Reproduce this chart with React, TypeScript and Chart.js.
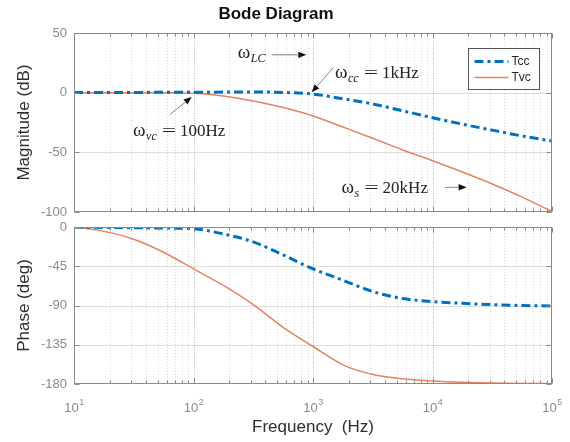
import React, { useEffect, useRef } from 'react';
import { Chart, registerables } from 'chart.js';

Chart.register(...registerables);

// ---- data ----
const frequencies = [10, 17.8, 31.6, 56.2, 100, 178, 316, 562, 1000, 1780, 3160, 5620, 10000, 17800, 31600, 56200, 100000];
const tccMagnitude = [0.2, 0.2, 0.2, 0.3, 0.3, 0.5, 0.6, 0.2, -1.2, -5.1, -9.4, -15.2, -21, -26.4, -31.4, -36.3, -40.5];
const tvcMagnitude = [0, 0, 0, 0, -0.5, -2.8, -7, -12.5, -19.5, -28.8, -38.2, -48, -57, -66.5, -76.5, -87.5, -99.5];
const tccPhase = [0, -0.5, -0.8, -1.2, -2, -8, -17, -32, -48, -61, -74, -82, -85.5, -87.5, -89, -90, -90.5];
const tvcPhase = [0, -5, -14, -29, -48, -67, -89, -115, -137, -158, -169, -174, -176.5, -178, -178.8, -179.3, -179.6];
const seriesNames = ['Tcc', 'Tvc'];
const decadeTicks = [10, 100, 1000, 10000, 100000];
const decadeExponents = ['1', '2', '3', '4', '5'];
const minorMultipliers = [2, 3, 4, 5, 6, 7, 8, 9];
const annotationSubscripts = ['LC', 'cc', 'vc', 's'];
const annotationValues = ['', '1kHz', '100Hz', '20kHz'];

// annotation placement in data coordinates (freq, dB)
const annotationLayout = [
  { text: [235, 29.2], from: [451, 31.7], to: [879, 31.7] },
  { text: [1528, 12.5], from: [1479, 21.1], to: [975, 0.25] },
  { text: [31.2, -36.25], from: [63.5, -18.3], to: [96.6, -3.6] },
  { text: [1734, -84.2], from: [12730, -79.4], to: [19300, -79.2] },
];

const SANS = '"Liberation Sans", Arial, Helvetica, sans-serif';
const SERIF = '"Liberation Serif", "Times New Roman", serif';
const TCC_COLOR = '#0072BD';
const TVC_COLOR = '#E3835F';
const TCC_DASH = [9, 4, 3, 4];
const BOX_COLOR = '#8a8a8a';

const toXY = (vals: number[]) => frequencies.map((f, i) => ({ x: f, y: vals[i] }));

const gridPlugin = {
  id: 'matlabGrid',
  beforeDatasetsDraw(chart: any) {
    const { ctx, chartArea, scales } = chart;
    const { left, right, top, bottom } = chartArea;
    const x = scales.x;
    const y = scales.y;
    ctx.save();
    ctx.lineWidth = 1;
    ctx.strokeStyle = 'rgba(0,0,0,0.13)';
    ctx.setLineDash([]);
    y.ticks.forEach((t: any) => {
      const py = Math.round(y.getPixelForValue(t.value)) + 0.5;
      if (py <= top + 1 || py >= bottom - 1) return;
      ctx.beginPath();
      ctx.moveTo(left, py);
      ctx.lineTo(right, py);
      ctx.stroke();
    });
    ctx.strokeStyle = 'rgba(0,0,0,0.16)';
    ctx.setLineDash([1, 2]);
    decadeTicks.forEach((d) => {
      minorMultipliers.forEach((m) => {
        const f = d * m;
        if (f > 100000) return;
        const px = Math.round(x.getPixelForValue(f)) + 0.5;
        ctx.beginPath();
        ctx.moveTo(px, top);
        ctx.lineTo(px, bottom);
        ctx.stroke();
      });
    });
    ctx.strokeStyle = 'rgba(0,0,0,0.3)';
    ctx.setLineDash([1, 1.5]);
    decadeTicks.forEach((d) => {
      const px = Math.round(x.getPixelForValue(d)) + 0.5;
      if (px <= left + 1 || px >= right - 1) return;
      ctx.beginPath();
      ctx.moveTo(px, top);
      ctx.lineTo(px, bottom);
      ctx.stroke();
    });
    ctx.restore();
  },
  afterDatasetsDraw(chart: any) {
    const { ctx, chartArea, scales } = chart;
    const { left, right, top, bottom } = chartArea;
    const x = scales.x;
    const y = scales.y;
    ctx.save();
    ctx.setLineDash([]);
    ctx.strokeStyle = BOX_COLOR;
    ctx.lineWidth = 1;
    const L = Math.round(left) + 0.5;
    const R = Math.round(right) - 0.5;
    const T = Math.round(top) + 0.5;
    const B = Math.round(bottom) - 0.5;
    ctx.strokeRect(L, T, R - L, B - T);
    ctx.beginPath();
    decadeTicks.forEach((d) => {
      [1, ...minorMultipliers].forEach((m) => {
        const f = d * m;
        if (f > 100000) return;
        const len = m === 1 ? 5 : 3;
        const px = Math.round(x.getPixelForValue(f)) + 0.5;
        ctx.moveTo(px, B);
        ctx.lineTo(px, B - len);
        ctx.moveTo(px, T);
        ctx.lineTo(px, T + len);
      });
    });
    y.ticks.forEach((t: any) => {
      const py = Math.round(y.getPixelForValue(t.value)) + 0.5;
      ctx.moveTo(L, py);
      ctx.lineTo(L + 5, py);
      ctx.moveTo(R, py);
      ctx.lineTo(R - 5, py);
    });
    ctx.stroke();
    ctx.restore();
  },
};

function drawArrow(ctx: CanvasRenderingContext2D, x1: number, y1: number, x2: number, y2: number) {
  const ang = Math.atan2(y2 - y1, x2 - x1);
  const headLen = 8;
  const headHalf = 3.2;
  const bx = x2 - headLen * Math.cos(ang);
  const by = y2 - headLen * Math.sin(ang);
  ctx.save();
  ctx.strokeStyle = '#777';
  ctx.lineWidth = 0.9;
  ctx.setLineDash([]);
  ctx.beginPath();
  ctx.moveTo(x1, y1);
  ctx.lineTo(bx, by);
  ctx.stroke();
  ctx.fillStyle = '#111';
  ctx.beginPath();
  ctx.moveTo(x2, y2);
  ctx.lineTo(bx + headHalf * Math.sin(ang), by - headHalf * Math.cos(ang));
  ctx.lineTo(bx - headHalf * Math.sin(ang), by + headHalf * Math.cos(ang));
  ctx.closePath();
  ctx.fill();
  ctx.restore();
}

function drawOmegaLabel(ctx: CanvasRenderingContext2D, x: number, y: number, sub: string, value: string) {
  ctx.save();
  ctx.fillStyle = '#222';
  ctx.textAlign = 'left';
  ctx.textBaseline = 'alphabetic';
  ctx.font = `19px ${SERIF}`;
  ctx.fillText('ω', x, y);
  let cx = x + ctx.measureText('ω').width + 0.5;
  ctx.font = `italic 12px ${SERIF}`;
  ctx.fillText(sub, cx, y + 4);
  cx += ctx.measureText(sub).width;
  if (value) {
    cx += 5;
    ctx.font = `17px ${SERIF}`;
    const eqW = ctx.measureText('=').width;
    ctx.save();
    ctx.translate(cx, y);
    ctx.scale(1.5, 1);
    ctx.fillText('=', 0, 0);
    ctx.restore();
    cx += eqW * 1.5 + 4;
    ctx.font = `17px ${SERIF}`;
    ctx.fillText(value, cx, y);
  }
  ctx.restore();
}

const annotationPlugin = {
  id: 'bodeAnnotations',
  afterDraw(chart: any) {
    const { ctx, scales } = chart;
    const x = scales.x;
    const y = scales.y;
    annotationLayout.forEach((a, i) => {
      drawArrow(
        ctx,
        x.getPixelForValue(a.from[0]),
        y.getPixelForValue(a.from[1]),
        x.getPixelForValue(a.to[0]),
        y.getPixelForValue(a.to[1])
      );
      drawOmegaLabel(ctx, x.getPixelForValue(a.text[0]), y.getPixelForValue(a.text[1]), annotationSubscripts[i], annotationValues[i]);
    });
  },
};

const legendPlugin = {
  id: 'boxLegend',
  afterDraw(chart: any) {
    const { ctx, chartArea } = chart;
    const bw = 71;
    const bh = 41;
    const bx = Math.round(chartArea.right - 13 - bw) + 0.5;
    const by = Math.round(chartArea.top + 15) + 0.5;
    ctx.save();
    ctx.fillStyle = '#fff';
    ctx.fillRect(bx, by, bw, bh);
    ctx.strokeStyle = '#555';
    ctx.lineWidth = 1;
    ctx.setLineDash([]);
    ctx.strokeRect(bx, by, bw, bh);
    chart.data.datasets.forEach((ds: any, i: number) => {
      const ly = by + 13 + i * 16;
      ctx.strokeStyle = ds.borderColor;
      ctx.lineWidth = ds.borderWidth;
      ctx.setLineDash(ds.borderDash || []);
      ctx.beginPath();
      ctx.moveTo(bx + 6, ly);
      ctx.lineTo(bx + 40, ly);
      ctx.stroke();
      ctx.setLineDash([]);
      ctx.fillStyle = '#262626';
      ctx.font = `12px ${SANS}`;
      ctx.textAlign = 'left';
      ctx.textBaseline = 'middle';
      ctx.fillText(ds.label, bx + 43, ly + 0.5);
    });
    ctx.restore();
  },
};

const xTickLabelPlugin = {
  id: 'decadeLabels',
  afterDraw(chart: any) {
    const { ctx, chartArea, scales } = chart;
    const x = scales.x;
    ctx.save();
    ctx.fillStyle = '#8a8a8a';
    ctx.textAlign = 'left';
    ctx.textBaseline = 'alphabetic';
    decadeTicks.forEach((d, i) => {
      const px = x.getPixelForValue(d);
      ctx.font = `13px ${SANS}`;
      const w1 = ctx.measureText('10').width;
      ctx.font = `9px ${SANS}`;
      const w2 = ctx.measureText(decadeExponents[i]).width;
      const start = px - (w1 + w2) / 2;
      const base = chartArea.bottom + 27.5;
      ctx.font = `13px ${SANS}`;
      ctx.fillText('10', start, base);
      ctx.font = `9px ${SANS}`;
      ctx.fillText(decadeExponents[i], start + w1 + 0.5, base - 6.5);
    });
    ctx.restore();
  },
};

function makeDatasets(tcc: number[], tvc: number[]) {
  return [
    {
      label: seriesNames[0],
      data: toXY(tcc),
      borderColor: TCC_COLOR,
      backgroundColor: TCC_COLOR,
      borderWidth: 3,
      borderDash: TCC_DASH,
      pointRadius: 0,
      fill: false,
      cubicInterpolationMode: 'monotone' as const,
    },
    {
      label: seriesNames[1],
      data: toXY(tvc),
      borderColor: TVC_COLOR,
      backgroundColor: TVC_COLOR,
      borderWidth: 1.5,
      pointRadius: 0,
      fill: false,
      cubicInterpolationMode: 'monotone' as const,
    },
  ];
}

function yAxis(min: number, max: number, step: number, title: string) {
  return {
    type: 'linear' as const,
    min,
    max,
    ticks: { stepSize: step, color: '#8a8a8a', font: { size: 13, family: SANS }, padding: 7 },
    grid: { display: false, drawTicks: false },
    border: { display: false },
    title: {
      display: true,
      text: title,
      color: '#2e2e2e',
      font: { size: 17, family: SANS },
      padding: { top: 14, bottom: 0 },
    },
    afterFit(scale: any) {
      scale.width = 74;
      scale.paddingTop = 0;
      scale.paddingBottom = 0;
    },
  };
}

export default function App() {
  const magRef = useRef<HTMLCanvasElement | null>(null);
  const phaseRef = useRef<HTMLCanvasElement | null>(null);

  useEffect(() => {
    if (!magRef.current || !phaseRef.current) return;
    const magChart = new Chart(magRef.current, {
      type: 'line',
      data: { datasets: makeDatasets(tccMagnitude, tvcMagnitude) as any },
      options: {
        responsive: false,
        animation: false,
        events: [],
        layout: { padding: { left: 0, right: 18, top: 0, bottom: 8 } },
        plugins: {
          legend: { display: false },
          tooltip: { enabled: false },
          title: {
            display: true,
            text: 'Bode Diagram',
            color: '#111',
            font: { size: 17, weight: 'bold', family: SANS },
            padding: { top: 4, bottom: 8.6 },
          },
        },
        scales: {
          x: { type: 'logarithmic', min: 10, max: 100000, display: false },
          y: yAxis(-100, 50, 50, 'Magnitude (dB)') as any,
        },
      },
      plugins: [gridPlugin, annotationPlugin, legendPlugin],
    });

    const phaseChart = new Chart(phaseRef.current, {
      type: 'line',
      data: { datasets: makeDatasets(tccPhase, tvcPhase) as any },
      options: {
        responsive: false,
        animation: false,
        events: [],
        layout: { padding: { left: 0, right: 18, top: 7, bottom: 0 } },
        plugins: {
          legend: { display: false },
          tooltip: { enabled: false },
          title: { display: false },
        },
        scales: {
          x: {
            type: 'logarithmic',
            min: 10,
            max: 100000,
            ticks: { display: false },
            grid: { display: false, drawTicks: false },
            border: { display: false },
            title: {
              display: true,
              text: 'Frequency  (Hz)',
              color: '#2e2e2e',
              font: { size: 17, family: SANS },
              padding: { top: 0, bottom: 4 },
            },
            afterFit(scale: any) {
              scale.height = 58;
              scale.paddingLeft = 0;
              scale.paddingRight = 0;
            },
          } as any,
          y: yAxis(-180, 0, 45, 'Phase (deg)') as any,
        },
      },
      plugins: [gridPlugin, xTickLabelPlugin],
    });

    return () => {
      magChart.destroy();
      phaseChart.destroy();
    };
  }, []);

  return (
    <div style={{ position: 'absolute', left: 0, top: 0, width: 570, height: 442, background: '#fff' }}>
      <canvas ref={magRef} width={570} height={220} style={{ position: 'absolute', left: 0, top: 0, width: 570, height: 220 }} />
      <canvas ref={phaseRef} width={570} height={222} style={{ position: 'absolute', left: 0, top: 220, width: 570, height: 222 }} />
    </div>
  );
}
